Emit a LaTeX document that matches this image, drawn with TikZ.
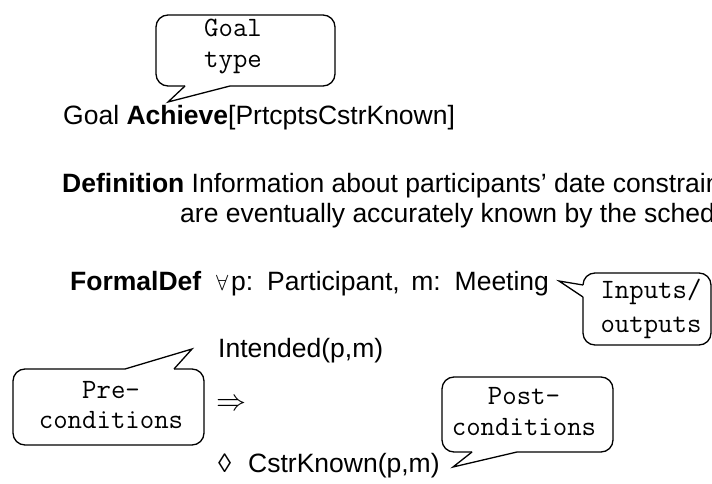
\RequirePackage{fix-cm}
\documentclass[tikz,border=0pt]{standalone}
\usepackage{fontspec}
\setmainfont{Liberation Sans}
\begin{document}
\begin{tikzpicture}[x=1pt,y=-1pt,
  txt/.style={anchor=base west, inner sep=0pt, font=\fontsize{26.5}{31}\selectfont},
  bub/.style={line width=1.3pt, rounded corners=12pt},
  tail/.style={line width=1.3pt, line join=miter},
  mono/.style={anchor=base, inner sep=0pt, font=\fontsize{28}{31}\selectfont\ttfamily}]
\useasboundingbox (0,0) rectangle (712,484);
\clip (0,0) rectangle (712,484);

% Goal type bubble
\draw[bub] (230,86) -- (335,86) -- (335,15) -- (156,15) -- (156,86) -- (185,86);
\draw[tail] (185,86) -- (168,102) -- (230,86);
\node[mono] (goalA) at (233,37) {Goal};
\node[mono] (goalB) at (233,68) {type};

% main text
\node[txt] (goal) at (63,125) {Goal \textbf{Achieve}[PrtcptsCstrKnown]};
\node[txt] (def1) at (62,192) {\textbf{Definition} Information about participants’ date constraints};
\node[txt] (def2) at (180,222) {are eventually accurately known by the scheduler};
\node[txt] (fd) at (70,290) {\textbf{FormalDef}};
\node[txt, font=\fontsize{22}{24}\selectfont] (all) at (216,290) {$\forall$};
\node[txt] (vars) at (231,290) {\spaceskip=11.5pt p: Participant, m: Meeting};
\node[txt] (int) at (218,357) {Intended(p,m)};
\node[anchor=center, inner sep=0pt, font=\fontsize{30}{33}\selectfont] (impl) at (231,405) {$\Rightarrow$};
\node[txt] (loz) at (218,472) {◊};
\node[txt] (ck) at (248,472) {CstrKnown(p,m)};

% Inputs/outputs bubble
\draw[bub] (583,297) -- (583,345) -- (711,345) -- (711,273) -- (583,273) -- (583,285);
\draw[tail] (583,285) -- (559,281) -- (583,297);
\node[mono] (ioA) at (651,298) {Inputs/};
\node[mono] (ioB) at (651,332) {outputs};

% Pre-conditions bubble
\draw[bub] (174,369) -- (204,369) -- (204,445) -- (13,445) -- (13,369) -- (125,369);
\draw[tail] (125,369) -- (192,349) -- (174,369);
\node[mono] (preA) at (111,398) {Pre-};
\node[mono] (preB) at (111,428) {conditions};

% Post-conditions bubble
\draw[bub] (517,452) -- (613,452) -- (613,377) -- (442,377) -- (442,452) -- (472,452);
\draw[tail] (472,452) -- (453,467) -- (517,452);
\node[mono] (postA) at (524,404) {Post-};
\node[mono] (postB) at (524,435) {conditions};
\end{tikzpicture}
\end{document}
